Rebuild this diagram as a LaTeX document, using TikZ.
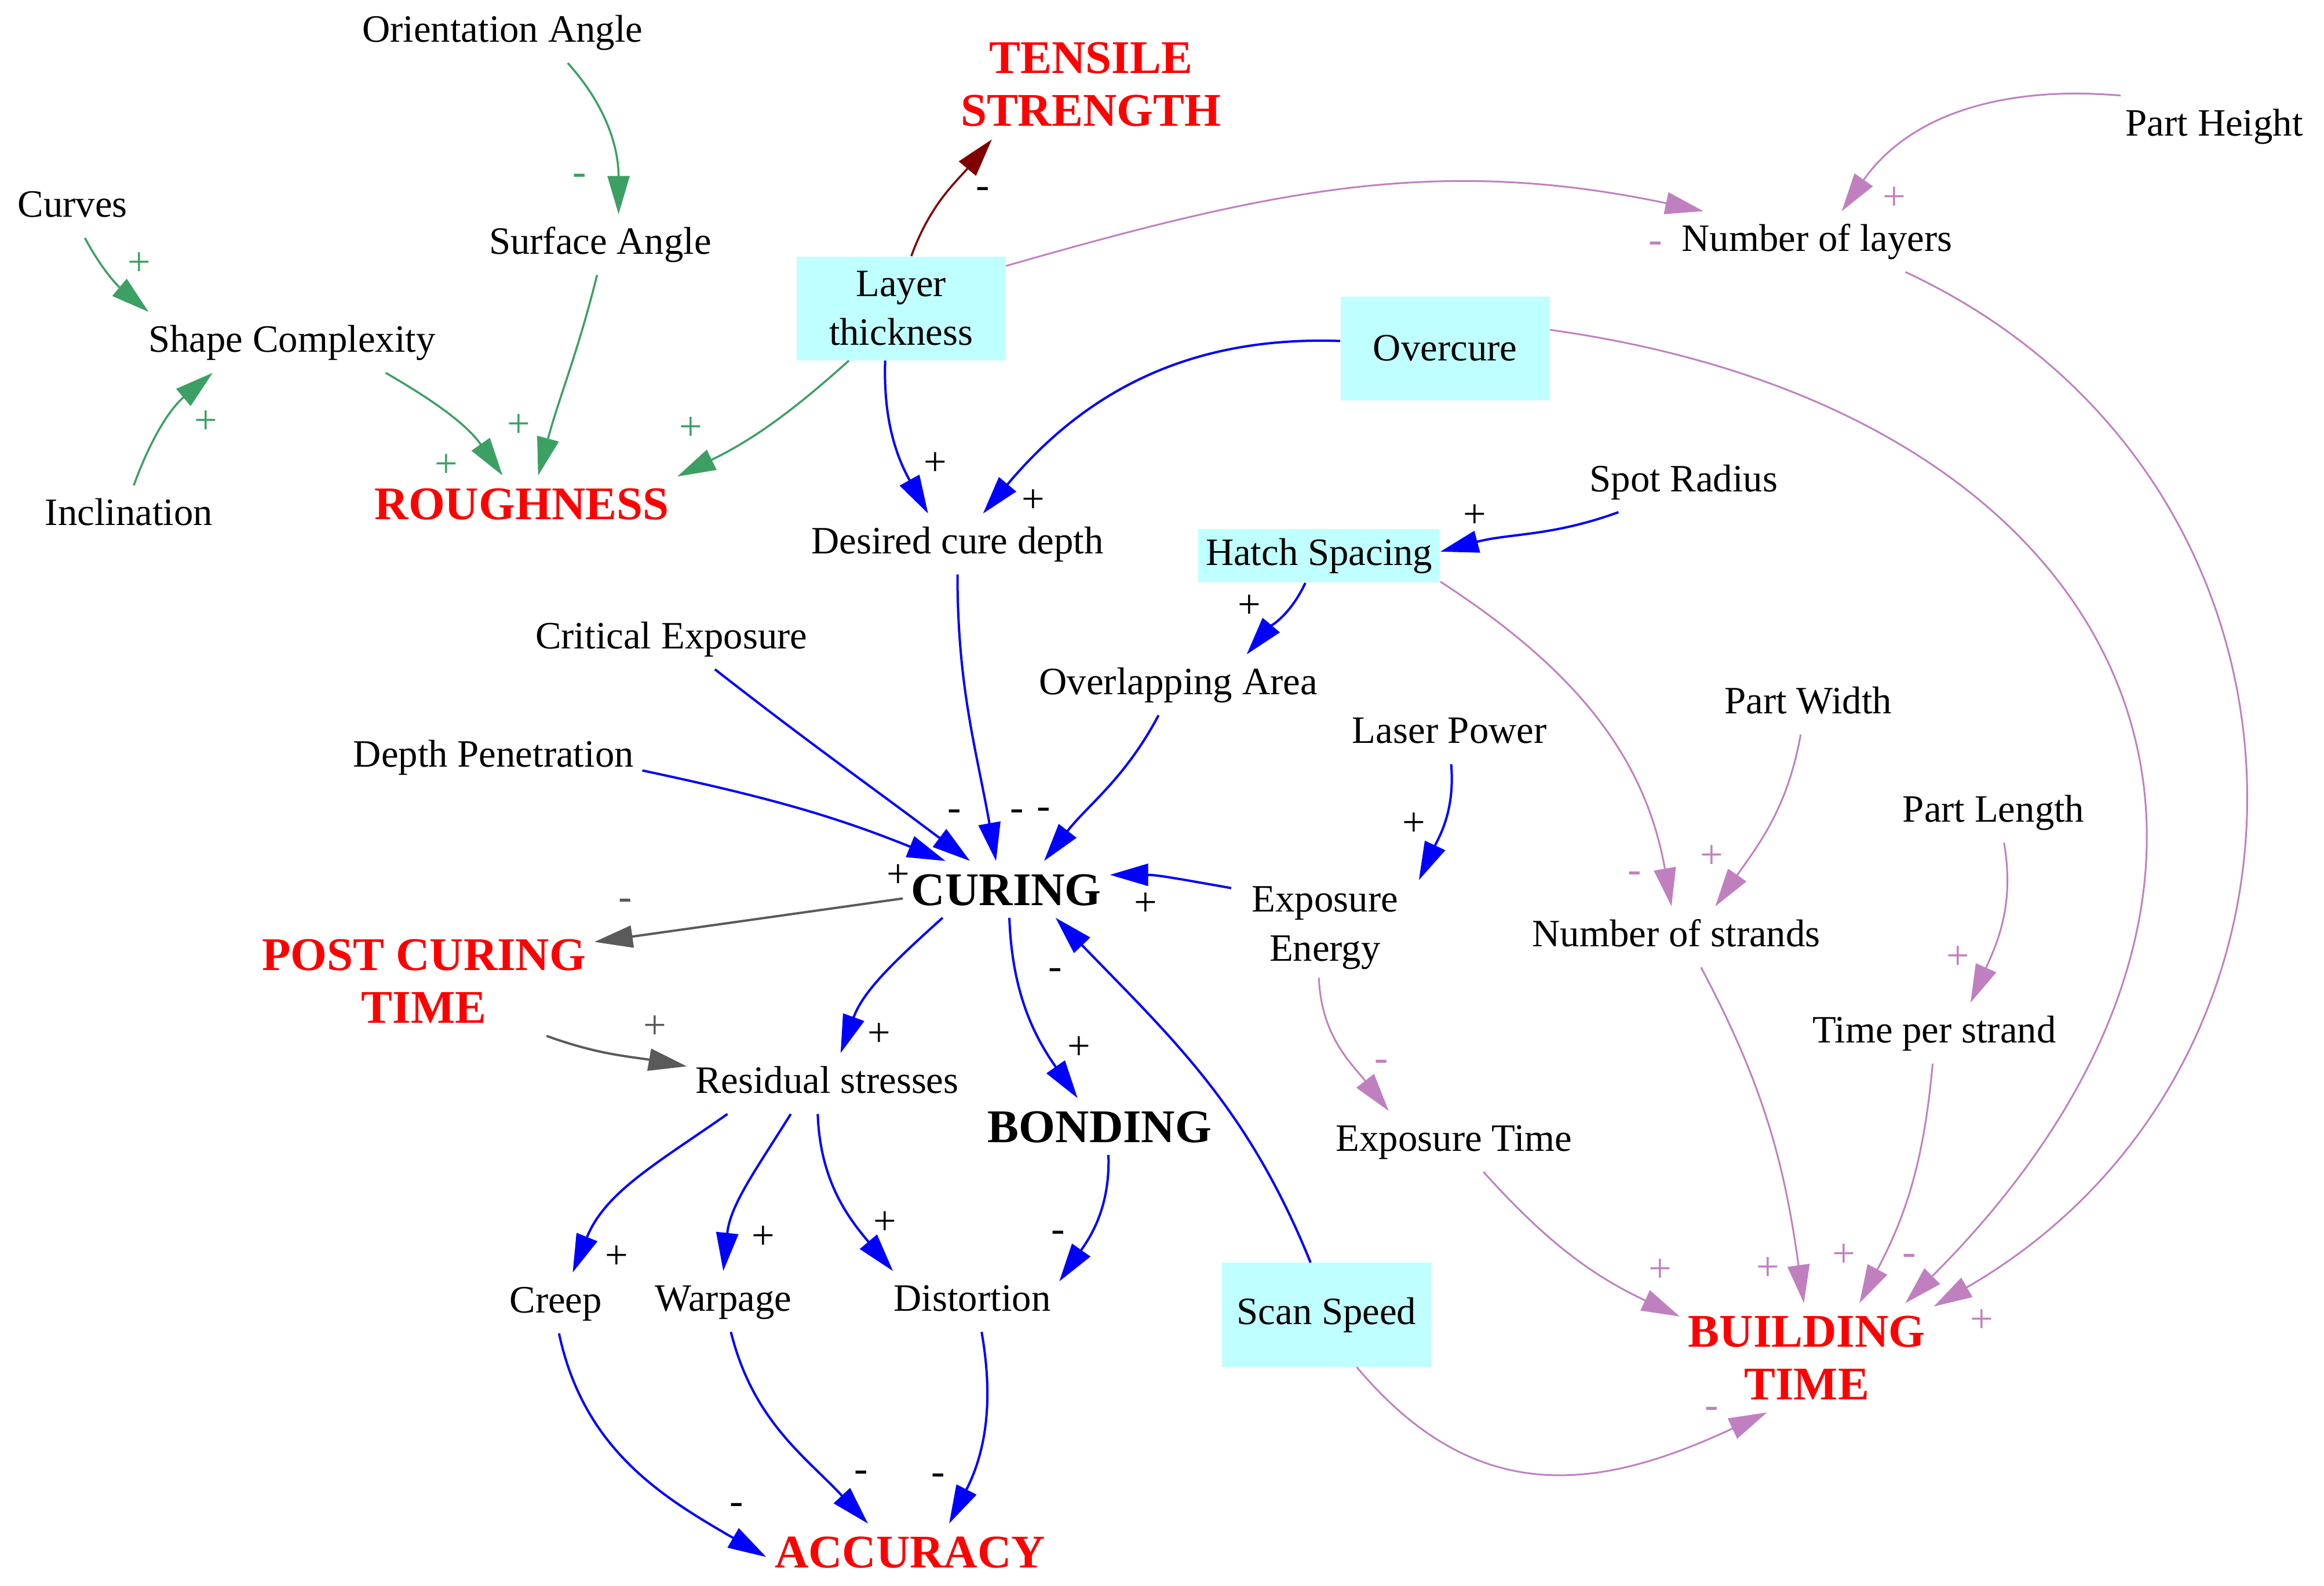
\documentclass[tikz,border=0pt]{standalone}
\usepackage{fontspec}
\setmainfont{Liberation Serif}
\usetikzlibrary{arrows.meta}

\definecolor{lnkgreen}{RGB}{60,160,100}
\definecolor{lnkpurple}{RGB}{192,128,192}
\definecolor{lnkblue}{RGB}{0,0,255}
\definecolor{lnkgray}{RGB}{90,90,90}
\definecolor{lnkdarkred}{RGB}{128,0,0}
\definecolor{boxcyan}{RGB}{192,255,255}
\definecolor{outred}{RGB}{255,0,0}

\begin{document}
\begin{tikzpicture}[x=0.2558mm,y=0.2558mm,
    var/.style={font=\fontsize{19}{24}\selectfont, inner xsep=4pt, inner ysep=6pt, text height=13.5pt, text depth=4pt},
    vartwo/.style={font=\fontsize{19}{24}\selectfont, inner xsep=10pt, inner ysep=4pt, align=center},
    cyanbox/.style={font=\fontsize{19}{24}\selectfont, fill=boxcyan, minimum width=36.1mm, minimum height=17.9mm, align=center},
    result/.style={font=\bfseries\fontsize{23}{26}\selectfont, text=outred, inner xsep=4pt, inner ysep=6pt, text height=15.5pt, text depth=0pt},
    resulttwo/.style={font=\bfseries\fontsize{23}{26}\selectfont, text=outred, inner xsep=4pt, inner ysep=6pt, align=center},
    core/.style={font=\bfseries\fontsize{23}{26}\selectfont, inner xsep=4pt, inner ysep=6pt, text height=15.5pt, text depth=0pt},
    pol/.style={font=\fontsize{20}{24}\selectfont, inner sep=0pt},
    lnk/.style={-{Triangle[length=6.6mm,width=3.8mm]}},
    grn/.style={lnk, draw=lnkgreen, line width=0.35mm},
    blu/.style={lnk, draw=lnkblue, line width=0.4mm},
    pur/.style={lnk, draw=lnkpurple, line width=0.3mm},
    gry/.style={lnk, draw=lnkgray, line width=0.4mm},
    drd/.style={lnk, draw=lnkdarkred, line width=0.35mm}]
\useasboundingbox (0,0) rectangle (1568,-1069.6);

% variables
\foreach \nm/\x/\y/\lbl in {ori/339/22/Orientation Angle, cur/49/140/Curves, sur/405/165/Surface Angle,
        shp/197/231/Shape Complexity, inc/87/348/Inclination, nlay/1226/163/Number of layers,
        ph/1494/85/Part Height, dcd/646/367/Desired cure depth, spot/1136/325/Spot Radius,
        crit/453/431/Critical Exposure, ovl/795/462/Overlapping Area, lp/978/495/Laser Power,
        pw/1220/475/Part Width, dp/333/511/Depth Penetration, pl/1345/548/Part Length,
        nstr/1131/632/Number of strands, tps/1305/697/Time per strand, res/558/731/Residual stresses,
        et/981/770/Exposure Time, creep/375/879/Creep, warp/488/878/Warpage, dist/656/878/Distortion} {
    \node[var] (\nm) at (\x,-\y) {\lbl};
}
\node[vartwo] (ee) at (894,-626) {Exposure\\Energy};
\foreach \nm/\x/\y/\lbl in {lay/608/208/{Layer\\thickness}, ovc/975/235/Overcure, scan/895/887/Scan Speed} {
    \node[cyanbox] (\nm) at (\x,-\y) {\lbl};
}
\node[cyanbox, minimum width=41.7mm, minimum height=9.2mm] (hatch) at (890,-375) {Hatch Spacing};
\node[result] (rough) at (352,-340) {ROUGHNESS};
\node[result] (acc) at (614,-1047) {ACCURACY};
\foreach \nm/\x/\y/\lbl in {tens/736/57/{TENSILE\\STRENGTH}, pct/286/662/{POST CURING\\TIME}, bt/1219/916/{BUILDING\\TIME}} {
    \node[resulttwo] (\nm) at (\x,-\y) {\lbl};
}
\node[core] (curing) at (679,-600) {CURING};
\node[core] (bond) at (742,-760) {BONDING};

% roughness and strength
\draw[grn] (ori.-25) to[out=-48,in=90] (sur.59);
\draw[grn] (cur.-68) to[out=-62,in=140] (shp.168);
\draw[grn] (inc.81) to[out=70,in=-140] (shp.-159);
\draw[grn] (shp.-18) to[out=-30,in=125] (rough.124);
\draw[grn] (sur.-96) to[out=-104,in=75] (rough.60);
\draw[grn] (lay.-135) to[out=-138,in=26] (rough.10);
\draw[drd] (lay.79) to[out=70,in=-130] (tens.-151);

% building time
\draw[pur] (lay.22) to[out=16,in=168] (nlay.165);
\draw[pur] (ph.162) to[out=175,in=55] (nlay.51);
\draw[pur] (nlay.-19) to[out=-25,in=30,looseness=1.2] (bt.22);
\draw[pur] (ovc.10) to[out=-8,in=45,looseness=1.5] (bt.29);
\draw[pur] (hatch.-12) to[out=-33,in=100] (nstr.99);
\draw[pur] (pw.-104) to[out=-100,in=55] (nstr.38);
\draw[pur] (pl.-71) to[out=-80,in=66] (tps.40);
\draw[pur] (nstr.-51) to[out=-62,in=98] (bt.93);
\draw[pur] (tps.-93) to[out=-95,in=62] (bt.46);
\draw[pur] (ee.-97) to[out=-88,in=128] (et.155);
\draw[pur] (et.-46) to[out=-48,in=155] (bt.162);
\draw[pur] (scan.-60) to[out=-50,in=-155,looseness=1.15] (bt.-126);

% curing
\draw[blu] (lay.-107) to[out=-92,in=119] (dcd.134);
\draw[blu] (ovc.176) to[out=178,in=50] (dcd.50);
\draw[blu] (spot.-155) to[out=200,in=15] (hatch.2);
\draw[blu] (hatch.-117) to[out=-115,in=50] (ovl.24);
\draw[blu] (dcd.-90) to[out=-90,in=100] (curing.110);
\draw[blu] (crit.-35) to[out=-38,in=143] (curing.142);
\draw[blu] (dp.-5) to[out=-12,in=158] (curing.155);
\draw[blu] (ovl.-123) to[out=-118,in=52] (curing.37);
\draw[blu] (ee.157) to[out=170,in=0] (curing.8);
\draw[blu] (scan.107) to[out=112,in=-46] (curing.-30);
\draw[blu] (lp.-87) to[out=-85,in=65] (ee.27);
\draw[blu] (curing.-156) to[out=-138,in=70] (res.66);
\draw[blu] (curing.-84) to[out=-88,in=125] (bond.128);
\draw[gry] (curing.-175) -- (pct.13);
\draw[gry] (pct.-24) to[out=-20,in=170] (res.173);

% accuracy
\draw[blu] (res.-163) to[out=-145,in=68] (creep.61);
\draw[blu] (res.-140) to[out=-122,in=84] (warp.90);
\draw[blu] (res.-107) to[out=-88,in=130] (dist.159);
\draw[blu] (bond.-73) to[out=-88,in=55] (dist.13);
\draw[blu] (creep.-84) to[out=-78,in=150] (acc.182);
\draw[blu] (warp.-76) to[out=-76,in=133] (acc.146);
\draw[blu] (dist.-73) to[out=-80,in=63] (acc.36);

% polarities
\foreach \x/\y/\sg/\col [count=\n] in {391/121/-/lnkgreen, 94/178/+/lnkgreen, 139/285/+/lnkgreen,
        301/314/+/lnkgreen, 350/287/+/lnkgreen, 466/289/+/lnkgreen, 663/130/-/black,
        1117/167/-/lnkpurple, 1278/134/+/lnkpurple, 1337/891/+/lnkpurple, 1288/850/-/lnkpurple,
        1103/592/-/lnkpurple, 1155/578/+/lnkpurple, 1321/646/+/lnkpurple, 1193/856/+/lnkpurple,
        1244/847/+/lnkpurple, 932/719/-/lnkpurple, 1120/857/+/lnkpurple, 1155/953/-/lnkpurple,
        631/313/+/black, 697/338/+/black, 995/348/+/black, 843/409/+/black, 686/550/-/black,
        644/550/-/black, 606/591/+/black, 704/549/-/black, 773/610/+/black, 712/657/-/black,
        954/556/+/black, 593/698/+/black, 728/707/+/black, 422/610/-/lnkgray, 442/693/+/lnkgray,
        416/848/+/black, 515/835/+/black, 597/825/+/black, 714/834/-/black, 497/1018/-/black,
        581/996/-/black, 633/998/-/black} {
    \node[pol,text=\col] (sign\n) at (\x,-\y) {\sg};
}
\end{tikzpicture}
\end{document}
